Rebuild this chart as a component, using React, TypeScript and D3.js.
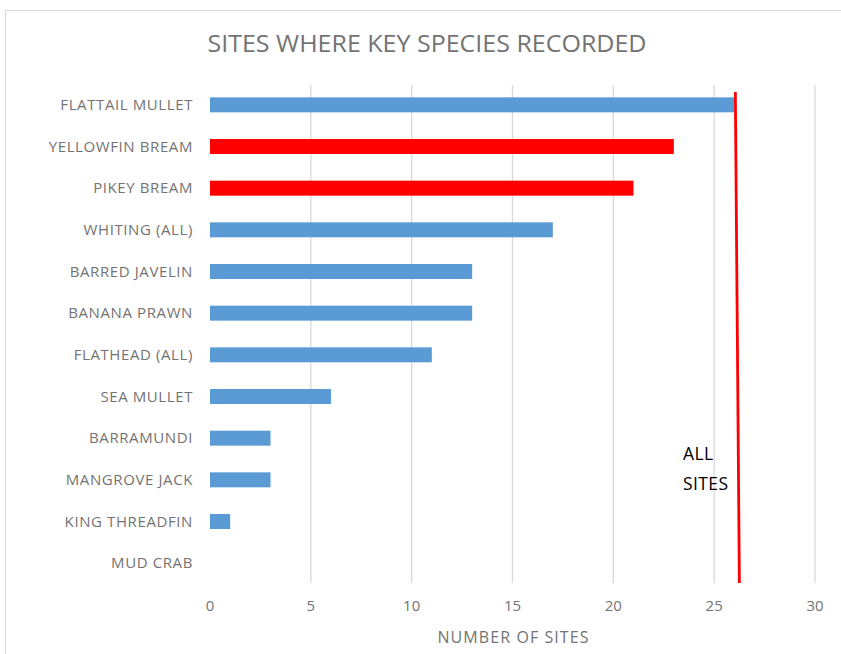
import React from "react";
import * as d3 from "d3";

const categories = [
  "FLATTAIL MULLET",
  "YELLOWFIN BREAM",
  "PIKEY BREAM",
  "WHITING (ALL)",
  "BARRED JAVELIN",
  "BANANA PRAWN",
  "FLATHEAD (ALL)",
  "SEA MULLET",
  "BARRAMUNDI",
  "MANGROVE JACK",
  "KING THREADFIN",
  "MUD CRAB",
];
const sites = [26, 23, 21, 17, 13, 13, 11, 6, 3, 3, 1, 0];
const highlighted = ["YELLOWFIN BREAM", "PIKEY BREAM"];
const xTicks = [0, 5, 10, 15, 20, 25, 30];
const allSitesLine = [26.05, 26.25]; // top, bottom (slightly tilted in original)
const title = "SITES WHERE KEY SPECIES RECORDED";
const xAxisTitle = "NUMBER OF SITES";
const annotation = ["ALL", "SITES"];

const W = 841;
const H = 654;
const FONT = "'Open Sans', sans-serif";
const TEXT_GRAY = "#737373";

export default function App() {
  const x = d3.scaleLinear().domain([0, 30]).range([210, 815]);
  const y = d3
    .scaleBand<string>()
    .domain(categories)
    .range([84, 584])
    .paddingInner(0.64)
    .paddingOuter(0.32);
  const plotTop = 85;
  const plotBottom = 583;

  return (
    <svg
      width={W}
      height={H}
      style={{ position: "absolute", left: 0, top: 0, background: "#fff" }}
    >
      <rect x={5.5} y={10.5} width={860} height={660} fill="#fff" stroke="#d9d9d9" strokeWidth={1} />
      <text
        x={427}
        y={52}
        textAnchor="middle"
        fontFamily={FONT}
        fontSize={23}
        fill={TEXT_GRAY}
        textLength={439}
        lengthAdjust="spacingAndGlyphs"
      >
        {title}
      </text>
      {xTicks
        .filter((t) => t !== 0)
        .map((t) => (
          <line
            key={t}
            x1={x(t)}
            x2={x(t)}
            y1={plotTop}
            y2={plotBottom}
            stroke="#d9d9d9"
            strokeWidth={1.3}
          />
        ))}
      {categories.map((c, i) => (
        <rect
          key={c}
          x={x(0)}
          y={y(c)!}
          width={x(sites[i]) - x(0)}
          height={y.bandwidth()}
          fill={highlighted.includes(c) ? "#ff0000" : "#5b9bd5"}
        />
      ))}
      {categories.map((c) => (
        <text
          key={c}
          x={193}
          y={y(c)! + y.bandwidth() / 2}
          dy="0.35em"
          textAnchor="end"
          fontFamily={FONT}
          fontSize={15}
          letterSpacing={0.6}
          fill={TEXT_GRAY}
        >
          {c}
        </text>
      ))}
      {xTicks.map((t) => (
        <text
          key={t}
          x={x(t)}
          y={606}
          dy="0.35em"
          textAnchor="middle"
          fontFamily={FONT}
          fontSize={15}
          fill={TEXT_GRAY}
        >
          {t}
        </text>
      ))}
      <text
        x={513}
        y={637}
        dy="0.35em"
        textAnchor="middle"
        fontFamily={FONT}
        fontSize={16}
        fill={TEXT_GRAY}
        textLength={151}
        lengthAdjust="spacing"
      >
        {xAxisTitle}
      </text>
      <line
        x1={x(allSitesLine[0])}
        y1={92}
        x2={x(allSitesLine[1])}
        y2={plotBottom}
        stroke="#ff0000"
        strokeWidth={2.8}
      />
      {annotation.map((a, i) => (
        <text
          key={a}
          x={683}
          y={454 + i * 30}
          dy="0.35em"
          fontFamily={FONT}
          fontSize={17.5}
          letterSpacing={0.4}
          fill="#000"
        >
          {a}
        </text>
      ))}
    </svg>
  );
}
